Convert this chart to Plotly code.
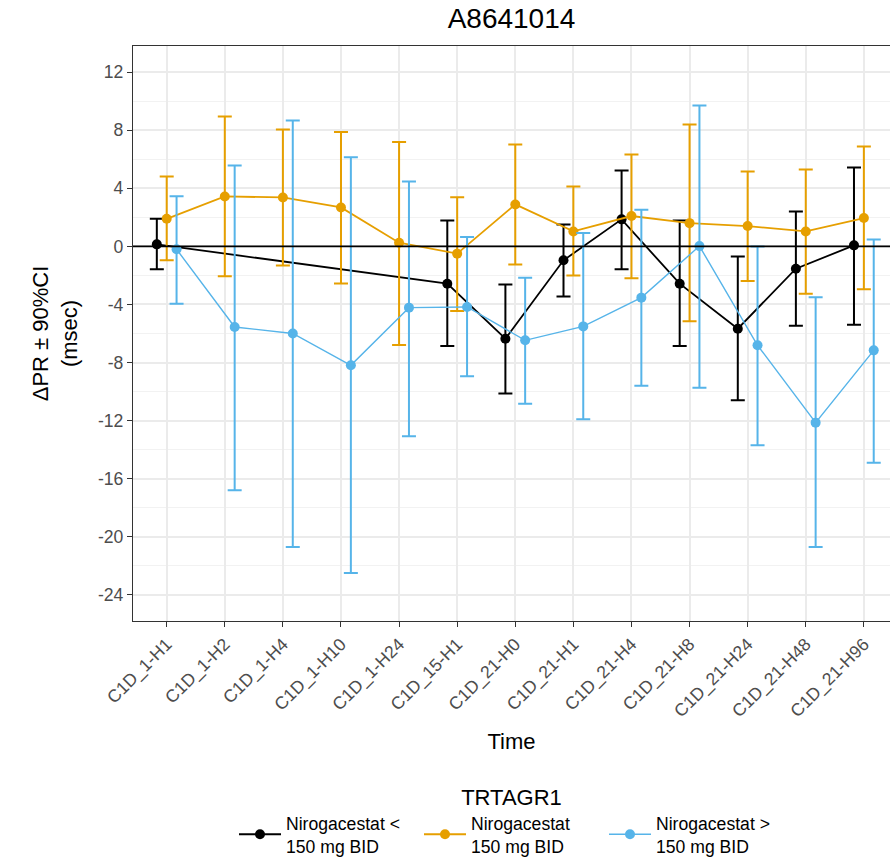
import plotly.graph_objects as go

# Visit labels (x categories)
visits = ["C1D_1-H1", "C1D_1-H2", "C1D_1-H4", "C1D_1-H10", "C1D_1-H24",
          "C1D_15-H1", "C1D_21-H0", "C1D_21-H1", "C1D_21-H4", "C1D_21-H8",
          "C1D_21-H24", "C1D_21-H48", "C1D_21-H96"]

# Mean change in PR (msec) with 90% CI bounds, per treatment group
low_mean = [0.14, None, None, None, None, -2.57, -6.36, -0.96, 1.86, -2.57, -5.67, -1.54, 0.07]
low_lo = [-1.58, None, None, None, None, -6.86, -10.14, -3.46, -1.58, -6.86, -10.6, -5.46, -5.39]
low_hi = [1.9, None, None, None, None, 1.79, -2.62, 1.51, 5.23, 1.79, -0.69, 2.41, 5.44]

mid_mean = [1.9, 3.44, 3.37, 2.68, 0.25, -0.5, 2.89, 1.03, 2.09, 1.6, 1.4, 1.03, 1.95]
mid_lo = [-0.96, -2.06, -1.31, -2.55, -6.8, -4.45, -1.24, -2.0, -2.2, -5.16, -2.39, -3.26, -2.96]
mid_hi = [4.82, 8.95, 8.05, 7.87, 7.18, 3.39, 7.02, 4.13, 6.33, 8.4, 5.16, 5.3, 6.88]

high_mean = [-0.2, -5.55, -6.0, -8.19, -4.22, -4.17, -6.47, -5.51, -3.53, 0.02, -6.81, -12.14, -7.16]
high_lo = [-3.95, -16.8, -20.7, -22.5, -13.08, -8.95, -10.83, -11.9, -9.59, -9.73, -13.7, -20.7, -14.9]
high_hi = [3.46, 5.57, 8.67, 6.13, 4.47, 0.64, -2.16, 0.92, 2.52, 9.7, 0.0, -3.51, 0.48]

groups = [
    ("Nirogacestat <<br>150 mg BID", "#000000", -0.17, low_mean, low_lo, low_hi, 1.8),
    ("Nirogacestat<br>150 mg BID", "#E69F00", 0.0, mid_mean, mid_lo, mid_hi, 1.8),
    ("Nirogacestat ><br>150 mg BID", "#56B4E9", 0.17, high_mean, high_lo, high_hi, 1.4),
]

y_ticks = [12, 8, 4, 0, -4, -8, -12, -16, -20, -24]

fig = go.Figure()
for name, color, dodge, mean, lo, hi, lw in groups:
    xs = [i + dodge for i in range(len(visits))]
    up = [None if m is None else h - m for m, h in zip(mean, hi)]
    dn = [None if m is None else m - l for m, l in zip(mean, lo)]
    fig.add_trace(go.Scatter(
        x=xs, y=mean, name=name, mode="lines+markers",
        connectgaps=True,
        line=dict(color=color, width=lw),
        marker=dict(color=color, size=10, symbol="circle"),
        error_y=dict(type="data", symmetric=False, array=up, arrayminus=dn,
                     color=color, thickness=2, width=7),
    ))

# Reference line at zero change
fig.add_shape(type="line", xref="paper", x0=0, x1=1, yref="y", y0=0, y1=0,
              line=dict(color="#000000", width=1.6))

font_family = "Liberation Sans, Arial, sans-serif"
fig.update_layout(
    width=890, height=867,
    margin=dict(l=133, r=0, t=46, b=246),
    paper_bgcolor="white", plot_bgcolor="white",
    font=dict(family=font_family, color="#000000"),
    title=dict(text="A8641014", x=0.5, xref="paper", xanchor="center",
               y=1 - 18 / 867, yref="container", yanchor="middle",
               font=dict(size=28, color="#000000")),
    showlegend=True,
    legend=dict(orientation="h", x=0.5, xanchor="center", y=-0.27, yanchor="top",
                itemwidth=42, entrywidth=128, entrywidthmode="pixels",
                title=dict(text="TRTAGR1", side="top center", font=dict(size=22)),
                font=dict(size=17.6, color="#000000"), bgcolor="rgba(0,0,0,0)"),
)

fig.update_xaxes(
    range=[-0.58, 12.45], tickmode="array",
    tickvals=list(range(len(visits))), ticktext=visits,
    tickangle=-45, tickfont=dict(size=17.6, color="#4D4D4D"),
    ticks="outside", ticklen=5, tickcolor="#333333", tickwidth=1.2,
    showgrid=True, gridcolor="#EBEBEB", gridwidth=1.6,
    showline=True, mirror=True, linecolor="#333333", linewidth=1.3,
    zeroline=False,
    title=dict(text="Time", font=dict(size=22), standoff=12),
)
fig.update_yaxes(
    range=[-25.8, 13.8], tickmode="array", tickvals=y_ticks,
    ticktext=[str(v) for v in y_ticks],
    tickfont=dict(size=17.6, color="#4D4D4D"),
    ticks="outside", ticklen=5, tickcolor="#333333", tickwidth=1.2,
    showgrid=True, gridcolor="#EBEBEB", gridwidth=1.6,
    minor=dict(tickmode="array", tickvals=[v + 2 for v in y_ticks] + [-26],
               showgrid=True, gridcolor="#F2F2F2", gridwidth=1, ticks=""),
    showline=True, mirror=True, linecolor="#333333", linewidth=1.3,
    zeroline=False,
    title=dict(text="\u0394PR \u00b1 90%CI<br>(msec)", font=dict(size=22), standoff=14),
)

fig.write_html("out.html")
